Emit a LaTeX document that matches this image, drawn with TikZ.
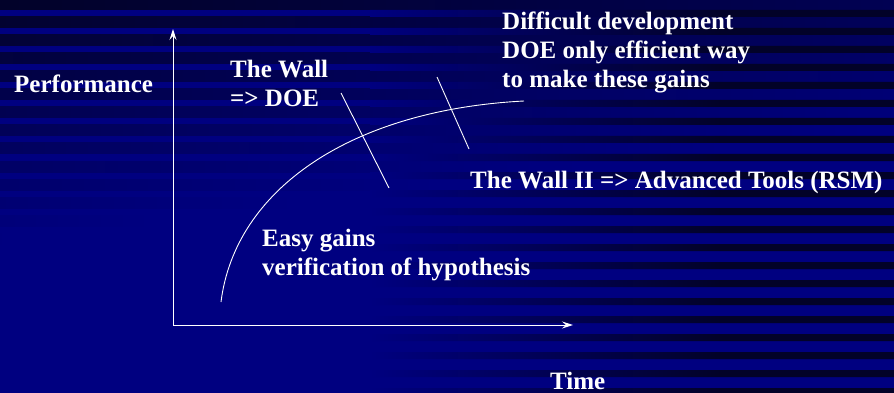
\documentclass[tikz,border=0pt]{standalone}
\usepackage{fontspec}
\setmainfont{Liberation Serif}
\usepackage{tikz}
\usetikzlibrary{arrows.meta}
\definecolor{bgblue}{RGB}{0,0,128}
\definecolor{bgdark}{RGB}{2,2,40}
\tikzset{
  lbl/.style={text=white, font=\fontsize{25}{29}\selectfont\bfseries,
              inner sep=0pt, anchor=base west, align=left},
  axis/.style={white, line width=1pt, line join=miter,
               {Stealth[length=11pt,width=7pt,inset=4pt]}-{Stealth[length=11pt,width=7pt,inset=4pt]}},
  wall/.style={white, line width=0.9pt}
}

\begin{document}
\begin{tikzpicture}[x=1pt, y=-1pt]
  % striped background
  \begin{scope}
    \clip (0,0) rectangle (894,393);
    \fill[bgblue] (0,0) rectangle (894,393);
    \foreach \k in {-1,...,12}{
      \pgfmathsetmacro\ya{17+18*\k}
      \pgfmathsetmacro\yb{28+18*\k}
      \pgfmathsetmacro\ym{(\ya+\yb)/2}
      \pgfmathsetmacro\al{100*max(0,min(1,1-\ym/240))}
      \pgfmathsetmacro\xe{min(894,1900*(1-\ym/240))}
      \pgfmathsetmacro\ar{100*max(0,1-\ym/240-\xe/1900)}
      \shade[left color=bgdark!\al!bgblue, right color=bgdark!\ar!bgblue]
        (0,\ya) rectangle (\xe,\yb);
    }
    \shade[left color=bgblue, right color=bgdark]
      \foreach \k in {0,...,21}{ (370,10+18*\k) rectangle (720,17+18*\k) };
    \fill[bgdark]
      \foreach \k in {0,...,21}{ (720,10+18*\k) rectangle (894,17+18*\k) };
  \end{scope}
  \useasboundingbox (0,0) rectangle (894,393);

  % axes
  \coordinate (ytop) at (173,29);
  \coordinate (orig) at (173,325);
  \coordinate (xend) at (573,325);
  \draw[axis] (ytop) -- (orig) -- (xend);

  % growth curve and the two walls
  \draw[wall] (221,302) .. controls (235,190) and (350,110) .. (524,101);
  \draw[wall] (341,93) -- (389,188);
  \draw[wall] (437,77) -- (469,149);

  % labels (base = last line)
  \node[lbl] (perf) at (14,93) {Performance};
  \node[lbl] (wall) at (230,107) {The Wall\\=> DOE};
  \node[lbl] (hard) at (502,88) {Difficult development\\DOE only efficient way\\to make these gains};
  \node[lbl] (wall2) at (470,188) {The Wall II => Advanced Tools (RSM)};
  \node[lbl] (easy) at (262,275) {Easy gains\\verification of hypothesis};
  \node[lbl] (time) at (550,389) {Time};
\end{tikzpicture}
\end{document}
